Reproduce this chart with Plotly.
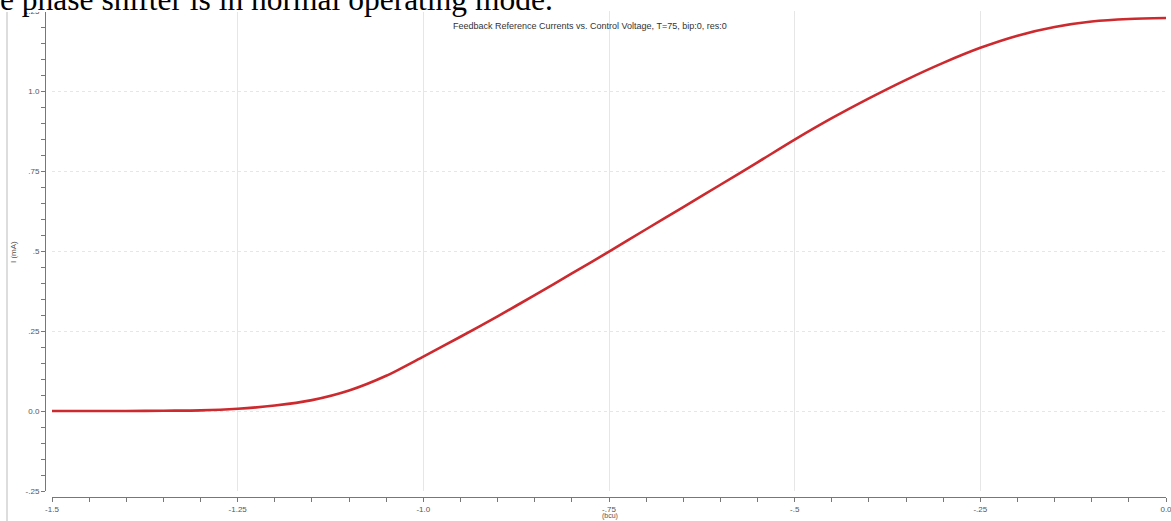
import plotly.graph_objects as go

# Data
voltage = [-1.50, -1.45, -1.40, -1.35, -1.30, -1.25, -1.20, -1.15, -1.10, -1.05,
           -1.00, -0.95, -0.90, -0.85, -0.80, -0.75, -0.70, -0.65, -0.60, -0.55,
           -0.50, -0.45, -0.40, -0.35, -0.30, -0.25, -0.20, -0.15, -0.10, -0.05, 0.00]
current = [0.000, 0.000, 0.000, 0.001, 0.002, 0.007, 0.017, 0.034, 0.064, 0.110,
           0.170, 0.232, 0.296, 0.362, 0.430, 0.498, 0.568, 0.637, 0.707, 0.777,
           0.848, 0.915, 0.977, 1.035, 1.088, 1.135, 1.173, 1.200, 1.217, 1.225, 1.228]

x_tickvals = [-1.5, -1.25, -1.0, -0.75, -0.5, -0.25, 0.0]
x_ticktext = ["-1.5", "-1.25", "-1.0", "-.75", "-.5", "-.25", "0.0"]
y_tickvals = [-0.25, 0.0, 0.25, 0.5, 0.75, 1.0, 1.25]
y_ticktext = ["-.25", "0.0", ".25", ".5", ".75", "1.0", "1.25"]

W, H = 1171, 521
ML, MR, MT, MB = 45, 5, 11, 24
PW = W - ML - MR
PH = H - MT - MB

def px_x(X):
    return (X - ML) / PW

def px_y(Y):
    return (H - MB - Y) / PH

fig = go.Figure()
fig.add_trace(go.Scatter(
    x=voltage, y=current, mode="lines",
    line=dict(color="#cc2a2e", width=2.6, shape="spline", smoothing=0.8),
    hoverinfo="skip", showlegend=False,
))

sans = "Liberation Sans, Arial, sans-serif"
tickfont = dict(family=sans, size=8, color="#555555")

fig.update_layout(
    width=W, height=H,
    margin=dict(l=ML, r=MR, t=MT, b=MB),
    paper_bgcolor="white", plot_bgcolor="white",
    xaxis=dict(
        domain=[7 / PW, 1], range=[-1.5, 0], anchor="free", position=0,
        automargin=False, ticklabeloverflow="allow",
        tickvals=x_tickvals, ticktext=x_ticktext, tickfont=tickfont,
        ticks="outside", ticklen=4, tickcolor="#777777", tickwidth=1,
        minor=dict(dtick=0.05, ticks="outside", ticklen=4, tickcolor="#777777", showgrid=False),
        showline=True, linecolor="#777777", linewidth=1,
        showgrid=True, gridcolor="#e6e6e6", gridwidth=1,
        zeroline=False,
    ),
    yaxis=dict(
        domain=[6 / PH, 1], range=[-0.25, 1.25], anchor="free", position=0,
        automargin=False, ticklabeloverflow="allow",
        tickvals=y_tickvals, ticktext=y_ticktext, tickfont=tickfont,
        ticks="outside", ticklen=4, tickcolor="#777777", tickwidth=1,
        minor=dict(dtick=0.05, ticks="outside", ticklen=4, tickcolor="#777777", showgrid=False),
        showline=True, linecolor="#777777", linewidth=1,
        showgrid=True, gridcolor="#e6e6e6", gridwidth=1, griddash="dot",
        zeroline=False,
    ),
    shapes=[
        dict(type="line", xref="paper", yref="paper",
             x0=px_x(7), x1=px_x(7), y0=px_y(12), y1=px_y(530),
             line=dict(color="#bbbbbb", width=1)),
        dict(type="rect", xref="paper", yref="paper", layer="above",
             x0=px_x(0), x1=px_x(560), y0=px_y(12), y1=px_y(0),
             line=dict(width=0), fillcolor="white"),
    ],
    annotations=[
        dict(text="Feedback Reference Currents vs. Control Voltage, T=75, bip:0, res:0",
             xref="paper", yref="paper", x=px_x(590), y=px_y(26),
             xanchor="center", yanchor="middle", showarrow=False,
             font=dict(family=sans, size=9, color="#333333")),
        dict(text="I (mA)", textangle=-90,
             xref="paper", yref="paper", x=px_x(13), y=px_y(252),
             xanchor="center", yanchor="middle", showarrow=False,
             font=dict(family=sans, size=8, color="#555555")),
        dict(text="(bcu)",
             xref="paper", yref="paper", x=px_x(610), y=px_y(516),
             xanchor="center", yanchor="middle", showarrow=False,
             font=dict(family=sans, size=7, color="#555555")),
        dict(text="e phase shifter is in normal operating mode.",
             xref="paper", yref="paper", x=px_x(-1), y=px_y(18),
             xanchor="left", yanchor="bottom", showarrow=False, borderpad=0,
             font=dict(family="Liberation Serif, Times New Roman, serif", size=31.5, color="#000000")),
    ],
)

fig.write_html("out.html", config={"displayModeBar": False},
               post_script="document.body.style.margin='0';")
